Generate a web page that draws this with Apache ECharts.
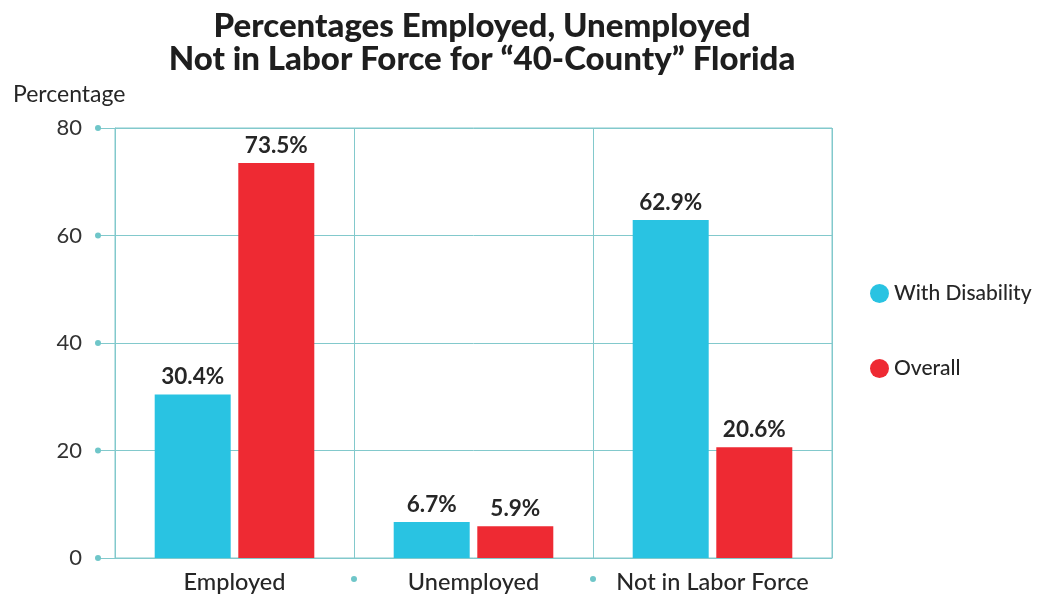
<!DOCTYPE html>
<html>
<head>
<meta charset="utf-8">
<script src="https://cdn.jsdelivr.net/npm/echarts@6/dist/echarts.min.js"></script>
<style>
    html, body { margin: 0; padding: 0; background: #fff; }
    #main { width: 1041px; height: 595px; }
</style>
</head>
<body>
<div id="main"></div>
<script>
    // 数据
    var categories = ['Employed', 'Unemployed', 'Not in Labor Force'];
    var withDisability = [30.4, 6.7, 62.9];
    var overall = [73.5, 5.9, 20.6];
    var seriesNames = ['With Disability', 'Overall'];

    var teal = '#82c9cc';
    var dotColor = '#6fc6c9';
    var font = 'Lato';

    var myChart = echarts.init(document.getElementById('main'));

    var barLabel = {
        show: true,
        position: 'top',
        distance: 6,
        fontFamily: font,
        fontWeight: 'bold',
        fontSize: 22.5,
        color: '#262626',
        formatter: function (p) {
            return p.value.toFixed(1) + '%';
        }
    };

    var option = {
        animation: false,
        title: {
            text: 'Percentages Employed, Unemployed\nNot in Labor Force for \u201c40-County\u201d Florida',
            left: 477,
            textAlign: 'center',
            top: 5,
            textStyle: {
                fontFamily: font,
                fontWeight: 900,
                fontSize: 33,
                lineHeight: 33,
                color: '#1e1e1e'
            }
        },
        legend: {
            orient: 'vertical',
            left: 865,
            top: 278,
            icon: 'circle',
            itemWidth: 19,
            itemHeight: 19,
            itemGap: 54,
            data: seriesNames,
            textStyle: {
                fontFamily: font,
                fontSize: 21,
                fontWeight: 500,
                color: '#262626'
            }
        },
        grid: {
            left: 115,
            right: 209,
            top: 128,
            bottom: 37,
            show: true,
            borderColor: teal,
            borderWidth: 1
        },
        xAxis: [{
            type: 'category',
            data: categories,
            axisLine: { lineStyle: { color: teal } },
            axisTick: { show: false },
            splitLine: { show: true, interval: 0, lineStyle: { color: teal } },
            axisLabel: {
                interval: 0,
                margin: 12,
                fontFamily: font,
                fontSize: 23.5,
                fontWeight: 500,
                color: '#262626'
            }
        }, {
            // 分隔点
            type: 'category',
            position: 'bottom',
            boundaryGap: false,
            data: ['', '', '', ''],
            axisLine: { show: false },
            axisTick: { show: false },
            splitLine: { show: false },
            axisLabel: {
                interval: 0,
                margin: 18,
                formatter: function (v, i) {
                    return (i === 1 || i === 2) ? '{d| }' : '';
                },
                rich: {
                    d: { width: 6, height: 6, borderRadius: 3, backgroundColor: dotColor }
                }
            }
        }],
        yAxis: {
            type: 'value',
            min: 0,
            max: 80,
            interval: 20,
            name: 'Percentage',
            nameLocation: 'end',
            nameGap: 22,
            nameTextStyle: {
                fontFamily: font,
                fontSize: 23,
                color: '#262626',
                align: 'left',
                padding: [0, 0, 0, -102]
            },
            axisLine: { show: true, lineStyle: { color: teal } },
            axisTick: { show: true, length: 17, lineStyle: { color: teal } },
            splitLine: { show: true, lineStyle: { color: teal } },
            axisLabel: {
                margin: 14,
                formatter: function (v) {
                    return '{v|' + v + '}{s| }{d| }';
                },
                rich: {
                    v: { fontFamily: font, fontSize: 22, color: '#333' },
                    s: { width: 13 },
                    d: { width: 6, height: 6, borderRadius: 3, backgroundColor: dotColor }
                }
            }
        },
        series: [{
            name: seriesNames[0],
            type: 'bar',
            data: withDisability,
            barWidth: 76,
            barGap: '10%',
            itemStyle: { color: '#29c3e2' },
            label: barLabel
        }, {
            name: seriesNames[1],
            type: 'bar',
            data: overall,
            barWidth: 76,
            barGap: '10%',
            itemStyle: { color: '#ee2a33' },
            label: barLabel
        }]
    };

    myChart.setOption(option);
</script>
</body>
</html>
